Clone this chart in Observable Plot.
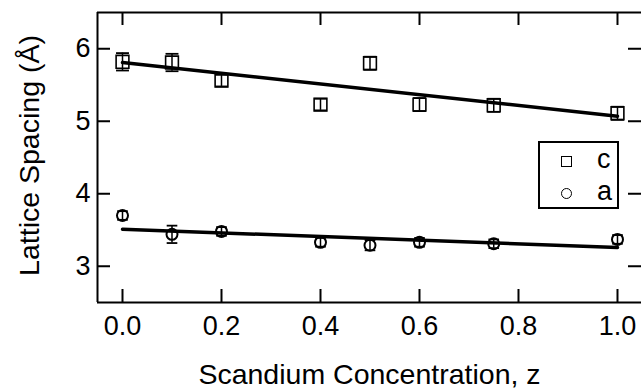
<!DOCTYPE html>
<html>
<head>
<meta charset="utf-8">
<script src="https://cdn.jsdelivr.net/npm/d3@7"></script>
<script src="https://cdn.jsdelivr.net/npm/@observablehq/plot@0.6"></script>
<style>
  html, body { margin: 0; padding: 0; background: #fff; overflow: hidden; }
  #wrap { position: relative; width: 641px; height: 391px; font-family: "Liberation Sans", Arial, sans-serif; }
  #legend { position: absolute; left: 538px; top: 141px; width: 77px; height: 64px; border: 2px solid #000; background: #fff; }
  .sym { position: absolute; box-sizing: border-box; border: 1.3px solid #000; width: 11px; height: 11px; }
  .lab { position: absolute; font-size: 27px; line-height: 27px; color: #000; }
</style>
</head>
<body>
<div id="wrap"></div>
<script>
// ---- data ----
const zValues = [0, 0.1, 0.2, 0.4, 0.5, 0.6, 0.75, 1.0];
const cValues = [5.82, 5.81, 5.56, 5.23, 5.80, 5.23, 5.22, 5.11];
const cErrors = [0.12, 0.12, 0.08, 0.08, 0.09, 0.09, 0.09, 0.09];
const aValues = [3.70, 3.44, 3.48, 3.33, 3.29, 3.33, 3.31, 3.37];
const aErrors = [0.06, 0.12, 0.06, 0.06, 0.07, 0.06, 0.06, 0.06];
const fitZ = [0, 1];
const cFit = [5.81, 5.07];
const aFit = [3.51, 3.26];
const xTicks = [0, 0.2, 0.4, 0.6, 0.8, 1.0];
const yTicks = [3, 4, 5, 6];
const xDomain = [-0.0505, 1.0485];
const yDomain = [2.5, 6.5];

const cData = zValues.map((z, i) => ({z, v: cValues[i], e: cErrors[i]}));
const aData = zValues.map((z, i) => ({z, v: aValues[i], e: aErrors[i]}));
const cLine = fitZ.map((z, i) => ({z, v: cFit[i]}));
const aLine = fitZ.map((z, i) => ({z, v: aFit[i]}));

const hline = {
  draw(context, size) {
    const w = Math.sqrt(size) / 2;
    context.moveTo(-w, 0);
    context.lineTo(w, 0);
  }
};

const W = 641, H = 391, mL = 97, mR = 0, mT = 12, mB = 89;
const pw = W - mL - mR, ph = H - mT - mB;
const tl = 13;

const chart = Plot.plot({
  width: W, height: H,
  marginLeft: mL, marginRight: mR, marginTop: mT, marginBottom: mB,
  style: {fontFamily: "Liberation Sans, Arial, sans-serif", color: "#000", background: "#fff", overflow: "visible"},
  x: {domain: xDomain},
  y: {domain: yDomain},
  marks: [
    // frame (left, top, bottom)
    Plot.ruleX([xDomain[0]], {stroke: "#000", strokeWidth: 2}),
    Plot.ruleY(yDomain, {stroke: "#000", strokeWidth: 2}),
    // inward ticks
    Plot.tickX(xTicks, {x: d => d, insetTop: ph - tl, stroke: "#000", strokeWidth: 2}),
    Plot.tickX(xTicks, {x: d => d, insetBottom: ph - tl, stroke: "#000", strokeWidth: 2}),
    Plot.tickY(yTicks, {y: d => d, insetRight: pw - tl, stroke: "#000", strokeWidth: 2}),
    Plot.tickY(yTicks, {y: d => d, insetLeft: pw - tl, stroke: "#000", strokeWidth: 2}),
    // axes labels
    Plot.axisX(xTicks, {tickSize: 0, tickPadding: 13, tickFormat: d3.format(".1f"), fontSize: 27, label: null}),
    Plot.axisY(yTicks, {tickSize: 0, tickPadding: 7, tickFormat: d3.format("d"), fontSize: 27, label: null}),
    Plot.text(["Scandium Concentration, z"], {frameAnchor: "bottom", dy: 81, fontSize: 28.5, fill: "#000"}),
    Plot.text(["Lattice Spacing (Å)"], {frameAnchor: "left", textAnchor: "middle", dx: -68, dy: -2, rotate: -90, fontSize: 28.5, fill: "#000"}),
    // fit lines
    Plot.line(cLine, {x: "z", y: "v", stroke: "#000", strokeWidth: 3.5}),
    Plot.line(aLine, {x: "z", y: "v", stroke: "#000", strokeWidth: 3.5}),
    // error bars c
    Plot.ruleX(cData, {x: "z", y1: d => d.v - d.e, y2: d => d.v + d.e, stroke: "#000", strokeWidth: 1.5}),
    Plot.dot(cData, {x: "z", y: d => d.v - d.e, symbol: hline, r: 7.3, stroke: "#000", strokeWidth: 1.8}),
    Plot.dot(cData, {x: "z", y: d => d.v + d.e, symbol: hline, r: 7.3, stroke: "#000", strokeWidth: 1.8}),
    Plot.dot(cData, {x: "z", y: "v", symbol: "square", r: 7.2, fill: "none", stroke: "#000", strokeWidth: 1.6}),
    // error bars a
    Plot.ruleX(aData, {x: "z", y1: d => d.v - d.e, y2: d => d.v + d.e, stroke: "#000", strokeWidth: 1.5}),
    Plot.dot(aData, {x: "z", y: d => d.v - d.e, symbol: hline, r: 6, stroke: "#000", strokeWidth: 1.8}),
    Plot.dot(aData, {x: "z", y: d => d.v + d.e, symbol: hline, r: 6, stroke: "#000", strokeWidth: 1.8}),
    Plot.dot(aData, {x: "z", y: "v", symbol: "circle", r: 5.5, fill: "none", stroke: "#000", strokeWidth: 2})
  ]
});

const wrap = document.getElementById("wrap");
wrap.appendChild(chart);

const legend = document.createElement("div");
legend.id = "legend";
legend.innerHTML =
  '<div class="sym" style="left:21px;top:13px;"></div>' +
  '<div class="lab" style="left:57px;top:3px;">c</div>' +
  '<div class="sym" style="left:21px;top:45px;border-radius:50%;"></div>' +
  '<div class="lab" style="left:57px;top:35px;">a</div>';
wrap.appendChild(legend);
</script>
</body>
</html>
